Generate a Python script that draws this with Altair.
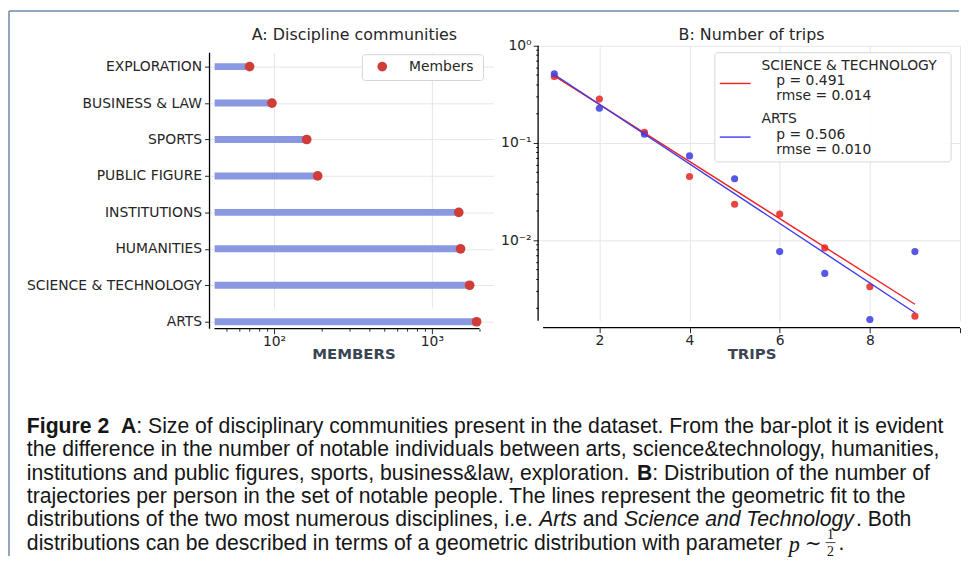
import altair as alt
import pandas as pd

# ---------------- data ----------------
categories = ["EXPLORATION", "BUSINESS & LAW", "SPORTS", "PUBLIC FIGURE",
              "INSTITUTIONS", "HUMANITIES", "SCIENCE & TECHNOLOGY", "ARTS"]
members = [70, 97, 161, 189, 1480, 1520, 1735, 1920]
bar_start = 42

trips = [1, 2, 3, 4, 5, 6, 7, 8, 9]
sci_tech_freq = [0.483, 0.283, 0.129, 0.0453, 0.0235, 0.0186, 0.00835, 0.00333, 0.00166]
arts_freq = [0.514, 0.228, 0.123, 0.0737, 0.0429, 0.00766, 0.00457, 0.00153, 0.00766]

fit_trips = [1, 9]
sci_tech_fit = [0.491, 0.0022]
arts_fit = [0.506, 0.0018]

members_ticks = [50, 60, 70, 80, 90, 100, 200, 300, 400, 500, 600, 700, 800, 900, 1000, 2000]
trips_ticks = [2, 4, 6, 8, 10]
freq_ticks = [0.002, 0.003, 0.004, 0.005, 0.006, 0.007, 0.008, 0.009, 0.01,
              0.02, 0.03, 0.04, 0.05, 0.06, 0.07, 0.08, 0.09, 0.1,
              0.2, 0.3, 0.4, 0.5, 0.6, 0.7, 0.8, 0.9, 1]

title_a = "A: Discipline communities"
title_b = "B: Number of trips"
legend_a = "Members"
legend_b_names = ["SCIENCE & TECHNOLOGY", "ARTS"]
legend_b_p = ["p = 0.491", "p = 0.506"]
legend_b_rmse = ["rmse = 0.014", "rmse = 0.010"]

caption_lines = [
    [("Figure 2", "bold"), (None, 0.55), ("A", "bold"),
     (": Size of disciplinary communities present in the dataset. From the bar-plot it is evident", "normal")],
    [("the difference in the number of notable individuals between arts, science&technology, humanities,", "normal")],
    [("institutions and public figures, sports, business&law, exploration. ", "normal"), ("B", "bold"),
     (": Distribution of the number of", "normal")],
    [("trajectories per person in the set of notable people. The lines represent the geometric fit to the", "normal")],
    [("distributions of the two most numerous disciplines, i.e. ", "normal"), ("Arts", "italic"),
     (" and ", "normal"), ("Science and Technology", "italic"), (". Both", "normal")],
    [("distributions can be described in terms of a geometric distribution with parameter ", "normal")],
]

# ---------------- style ----------------
RED_A = "#d03c37"
BAR_A = "#8a98e2"
RED_B = "#e8302e"
BLUE_B = "#4545e2"
RED_L = "#f01e1e"
BLUE_L = "#3c3cec"
TXT = "#262626"
AX_TITLE = "#3b4452"
GRID = "#e6e6e6"
FRAME = "#6d88ab"
FONT = "DejaVu Sans"
CAP_FONT = "Liberation Sans"
CAP_COLOR = "#161616"

W_A, H_A = 286, 285
W_B, H_B = 425, 277
OX, OY = 211, 43  # screen position of panel A plot origin (for annotations)

one = pd.DataFrame({"k": [0]})


def vrule(x, y1, y2, color="black", w=1.3):
    return alt.Chart(one).mark_rule(color=color, strokeWidth=w).encode(
        x=alt.value(x), y=alt.value(y1), y2=alt.value(y2))


def hrule(x1, x2, y, color="black", w=1.3):
    return alt.Chart(one).mark_rule(color=color, strokeWidth=w).encode(
        x=alt.value(x1), x2=alt.value(x2), y=alt.value(y))


def label(text, x, y, size=14, font=FONT, color=TXT, align="left", **kw):
    return alt.Chart(one).mark_text(text=text, align=align, baseline="middle", fontSize=size,
                                    font=font, color=color, **kw).encode(
        x=alt.value(x), y=alt.value(y))


# ---------------- panel A ----------------
df_a = pd.DataFrame({"category": categories, "members": members,
                     "start": [bar_start] * len(categories)})

major_a = "datum.value == 100 || datum.value == 1000"
x_a = alt.X("members:Q",
            scale=alt.Scale(type="log", domain=[39, 2455], nice=False),
            axis=alt.Axis(values=members_ticks,
                          labelExpr="datum.value == 100 ? '10\u00b2' : datum.value == 1000 ? '10\u00b3' : ''",
                          tickSize={"condition": {"test": major_a, "value": 5}, "value": 2.5},
                          gridOpacity={"condition": {"test": major_a, "value": 1}, "value": 0},
                          grid=True, gridColor=GRID, domain=False,
                          labelFontSize=14, labelColor=TXT, labelFont=FONT, labelPadding=1,
                          tickColor=TXT, title="MEMBERS", titleFontSize=15, titleFontWeight="bold",
                          titleColor=AX_TITLE, titleFont=FONT, titleX=145, titleY=25,
                          titleAlign="center", titleBaseline="middle"))
y_a = alt.Y("category:N", sort=categories,
            scale=alt.Scale(type="point", domain=categories, range=[21, 278], padding=0),
            axis=alt.Axis(title=None, domain=False, grid=True, gridColor=GRID, tickSize=5,
                          tickColor=TXT, labelFontSize=14, labelColor=TXT, labelFont=FONT,
                          labelPadding=3))

base_a = alt.Chart(df_a)
bars = base_a.mark_rule(strokeWidth=7, color=BAR_A).encode(x=x_a, x2="start:Q", y=y_a)
dots = base_a.mark_circle(size=95, color=RED_A, opacity=1).encode(x="members:Q", y="category:N")

layers_a = [
    bars, dots,
    vrule(0, 7, H_A),
    hrule(5, 272, H_A),
    # legend A
    alt.Chart(one).mark_rect(fill="white", stroke="#d5d5d5", strokeWidth=1, cornerRadius=3).encode(
        x=alt.value(154), x2=alt.value(276), y=alt.value(9), y2=alt.value(35)),
    alt.Chart(one).mark_circle(size=95, color=RED_A, opacity=1).encode(x=alt.value(174), y=alt.value(21)),
    label(legend_a, 201, 21),
    # panel titles
    label(title_a, 357 - OX, 32 - OY, size=16, align="center"),
    label(title_b, 757 - OX, 32 - OY, size=16, align="center"),
    # frame
    hrule(-202, 755, -35, color=FRAME, w=1.5),
    vrule(-202, -35, 514, color=FRAME, w=1.5),
]

# ---------------- caption ----------------
W_REG = {" ": 278, ",": 278, ".": 278, ":": 278, "-": 333, "&": 667,
         "A": 667, "B": 667, "C": 722, "D": 722, "E": 667, "F": 611, "G": 778, "H": 722, "I": 278,
         "J": 500, "K": 667, "L": 556, "M": 833, "N": 722, "O": 778, "P": 667, "Q": 778, "R": 722,
         "S": 667, "T": 611, "U": 722, "V": 667, "W": 944, "X": 667, "Y": 667, "Z": 611,
         "a": 556, "b": 556, "c": 500, "d": 556, "e": 556, "f": 278, "g": 556, "h": 556, "i": 222,
         "j": 222, "k": 500, "l": 222, "m": 833, "n": 556, "o": 556, "p": 556, "q": 556, "r": 333,
         "s": 500, "t": 278, "u": 556, "v": 500, "w": 722, "x": 500, "y": 500, "z": 500}
W_BOLD = {"F": 611, "i": 278, "g": 611, "u": 611, "r": 389, "e": 556, " ": 278, "2": 556,
          "A": 722, "B": 722}
for d in "0123456789":
    W_REG[d] = 556


def em_width(text, style):
    tab = W_BOLD if style == "bold" else W_REG
    return sum(tab.get(ch, W_REG.get(ch, 556)) for ch in text) / 1000.0


def line_em(segs):
    tot = 0.0
    for t, s in segs:
        tot += s if t is None else em_width(t, s)
    return tot


CAP_X0 = 27
CAP_W = 924
cap_fs = CAP_W / line_em(caption_lines[0])
cap_y = [427, 450.5, 474, 497.5, 521, 544.5]

cap_layers = []
last_end = 0
for i, segs in enumerate(caption_lines):
    x = CAP_X0
    for t, s in segs:
        if t is None:
            x += s * cap_fs
            continue
        kw = {}
        if s == "bold":
            kw["fontWeight"] = "bold"
        if s == "italic":
            kw["fontStyle"] = "italic"
        lead = len(t) - len(t.lstrip(" "))
        shown = t.strip(" ")
        if shown:
            cap_layers.append(label(shown, x + lead * 0.278 * cap_fs - OX, cap_y[i] - OY,
                                    size=cap_fs, font=CAP_FONT, color=CAP_COLOR, **kw))
        x += em_width(t, s) * cap_fs
    last_end = x

# math p ~ 1/2 at the end of the last line
px = last_end - OX
py = cap_y[-1] - OY
cap_layers += [
    label("p", px, py + 1, size=cap_fs + 1, font="Liberation Serif", color=CAP_COLOR, fontStyle="italic"),
    label("\u223c", px + 16, py, size=cap_fs - 1, font="DejaVu Serif", color=CAP_COLOR),
    alt.Chart(one).mark_text(text="1", align="center", baseline="middle", fontSize=14,
                             font="Liberation Serif", color=CAP_COLOR).encode(
        x=alt.value(px + 42), y=alt.value(py - 9)),
    hrule(px + 37, px + 47, py - 1, color=CAP_COLOR, w=0.8),
    alt.Chart(one).mark_text(text="2", align="center", baseline="middle", fontSize=14,
                             font="Liberation Serif", color=CAP_COLOR).encode(
        x=alt.value(px + 42), y=alt.value(py + 8)),
    label(".", px + 50, py, size=cap_fs, font=CAP_FONT, color=CAP_COLOR),
]

panel_a = alt.layer(*layers_a, *cap_layers).properties(width=W_A, height=H_A)

# ---------------- panel B ----------------
df_sci = pd.DataFrame({"trips": trips, "freq": sci_tech_freq})
df_arts = pd.DataFrame({"trips": trips, "freq": arts_freq})
df_sci_fit = pd.DataFrame({"trips": fit_trips, "freq": sci_tech_fit})
df_arts_fit = pd.DataFrame({"trips": fit_trips, "freq": arts_fit})

major_b = "datum.value == 1 || datum.value == 0.1 || datum.value == 0.01"
x_b = alt.X("trips:Q",
            scale=alt.Scale(domain=[0.641, 10.0], nice=False, zero=False),
            axis=alt.Axis(values=trips_ticks, labelExpr="datum.value == 10 ? '' : datum.label",
                          grid=True, gridColor=GRID, domain=False, offset=7, tickSize=5, tickColor=TXT,
                          labelFontSize=14, labelColor=TXT, labelFont=FONT, labelPadding=1,
                          title="TRIPS", titleFontSize=15, titleFontWeight="bold", titleColor=AX_TITLE,
                          titleFont=FONT, titleX=215, titleY=26, titleAlign="center",
                          titleBaseline="middle"))
y_b = alt.Y("freq:Q",
            scale=alt.Scale(type="log", domain=[0.00149, 1], nice=False),
            axis=alt.Axis(values=freq_ticks, title=None, domain=False,
                          labelExpr="datum.value == 1 ? '10\u2070' : datum.value == 0.1 ? '10\u207b\u00b9' : datum.value == 0.01 ? '10\u207b\u00b2' : ''",
                          tickSize={"condition": {"test": major_b, "value": 5}, "value": 2.5},
                          gridOpacity={"condition": {"test": major_b, "value": 1}, "value": 0},
                          grid=True, gridColor=GRID, tickColor=TXT,
                          labelFontSize=14, labelColor=TXT, labelFont=FONT, labelPadding=2))

pts_sci = alt.Chart(df_sci).mark_circle(size=52, color=RED_B, opacity=0.9).encode(x=x_b, y=y_b)
pts_arts = alt.Chart(df_arts).mark_circle(size=52, color=BLUE_B, opacity=0.9).encode(x="trips:Q", y="freq:Q")
line_sci = alt.Chart(df_sci_fit).mark_line(color=RED_L, strokeWidth=1.4).encode(x="trips:Q", y="freq:Q")
line_arts = alt.Chart(df_arts_fit).mark_line(color=BLUE_L, strokeWidth=1.4).encode(x="trips:Q", y="freq:Q")

layers_b = [
    pts_sci, pts_arts, line_sci, line_arts,
    vrule(0, 0, H_B),
    hrule(5, W_B, H_B + 7),
    alt.Chart(one).mark_rect(fill="white", stroke="#d5d5d5", strokeWidth=1, cornerRadius=3,
                             opacity=0.92).encode(
        x=alt.value(178), x2=alt.value(416), y=alt.value(7), y2=alt.value(117)),
    hrule(183, 214, 38, color=RED_L, w=1.4),
    hrule(183, 214, 92, color=BLUE_L, w=1.4),
    label(legend_b_names[0], 225, 20),
    label(legend_b_p[0], 240, 36),
    label(legend_b_rmse[0], 240, 51),
    label(legend_b_names[1], 225, 74),
    label(legend_b_p[1], 240, 90),
    label(legend_b_rmse[1], 240, 105),
]

panel_b = alt.layer(*layers_b).properties(width=W_B, height=H_B)

chart = alt.hconcat(panel_a, panel_b, spacing=45, bounds="flush").properties(
    padding=0, background="white"
).configure_view(stroke=None)

chart.save("out.html", embed_options={"renderer": "svg", "actions": False})
